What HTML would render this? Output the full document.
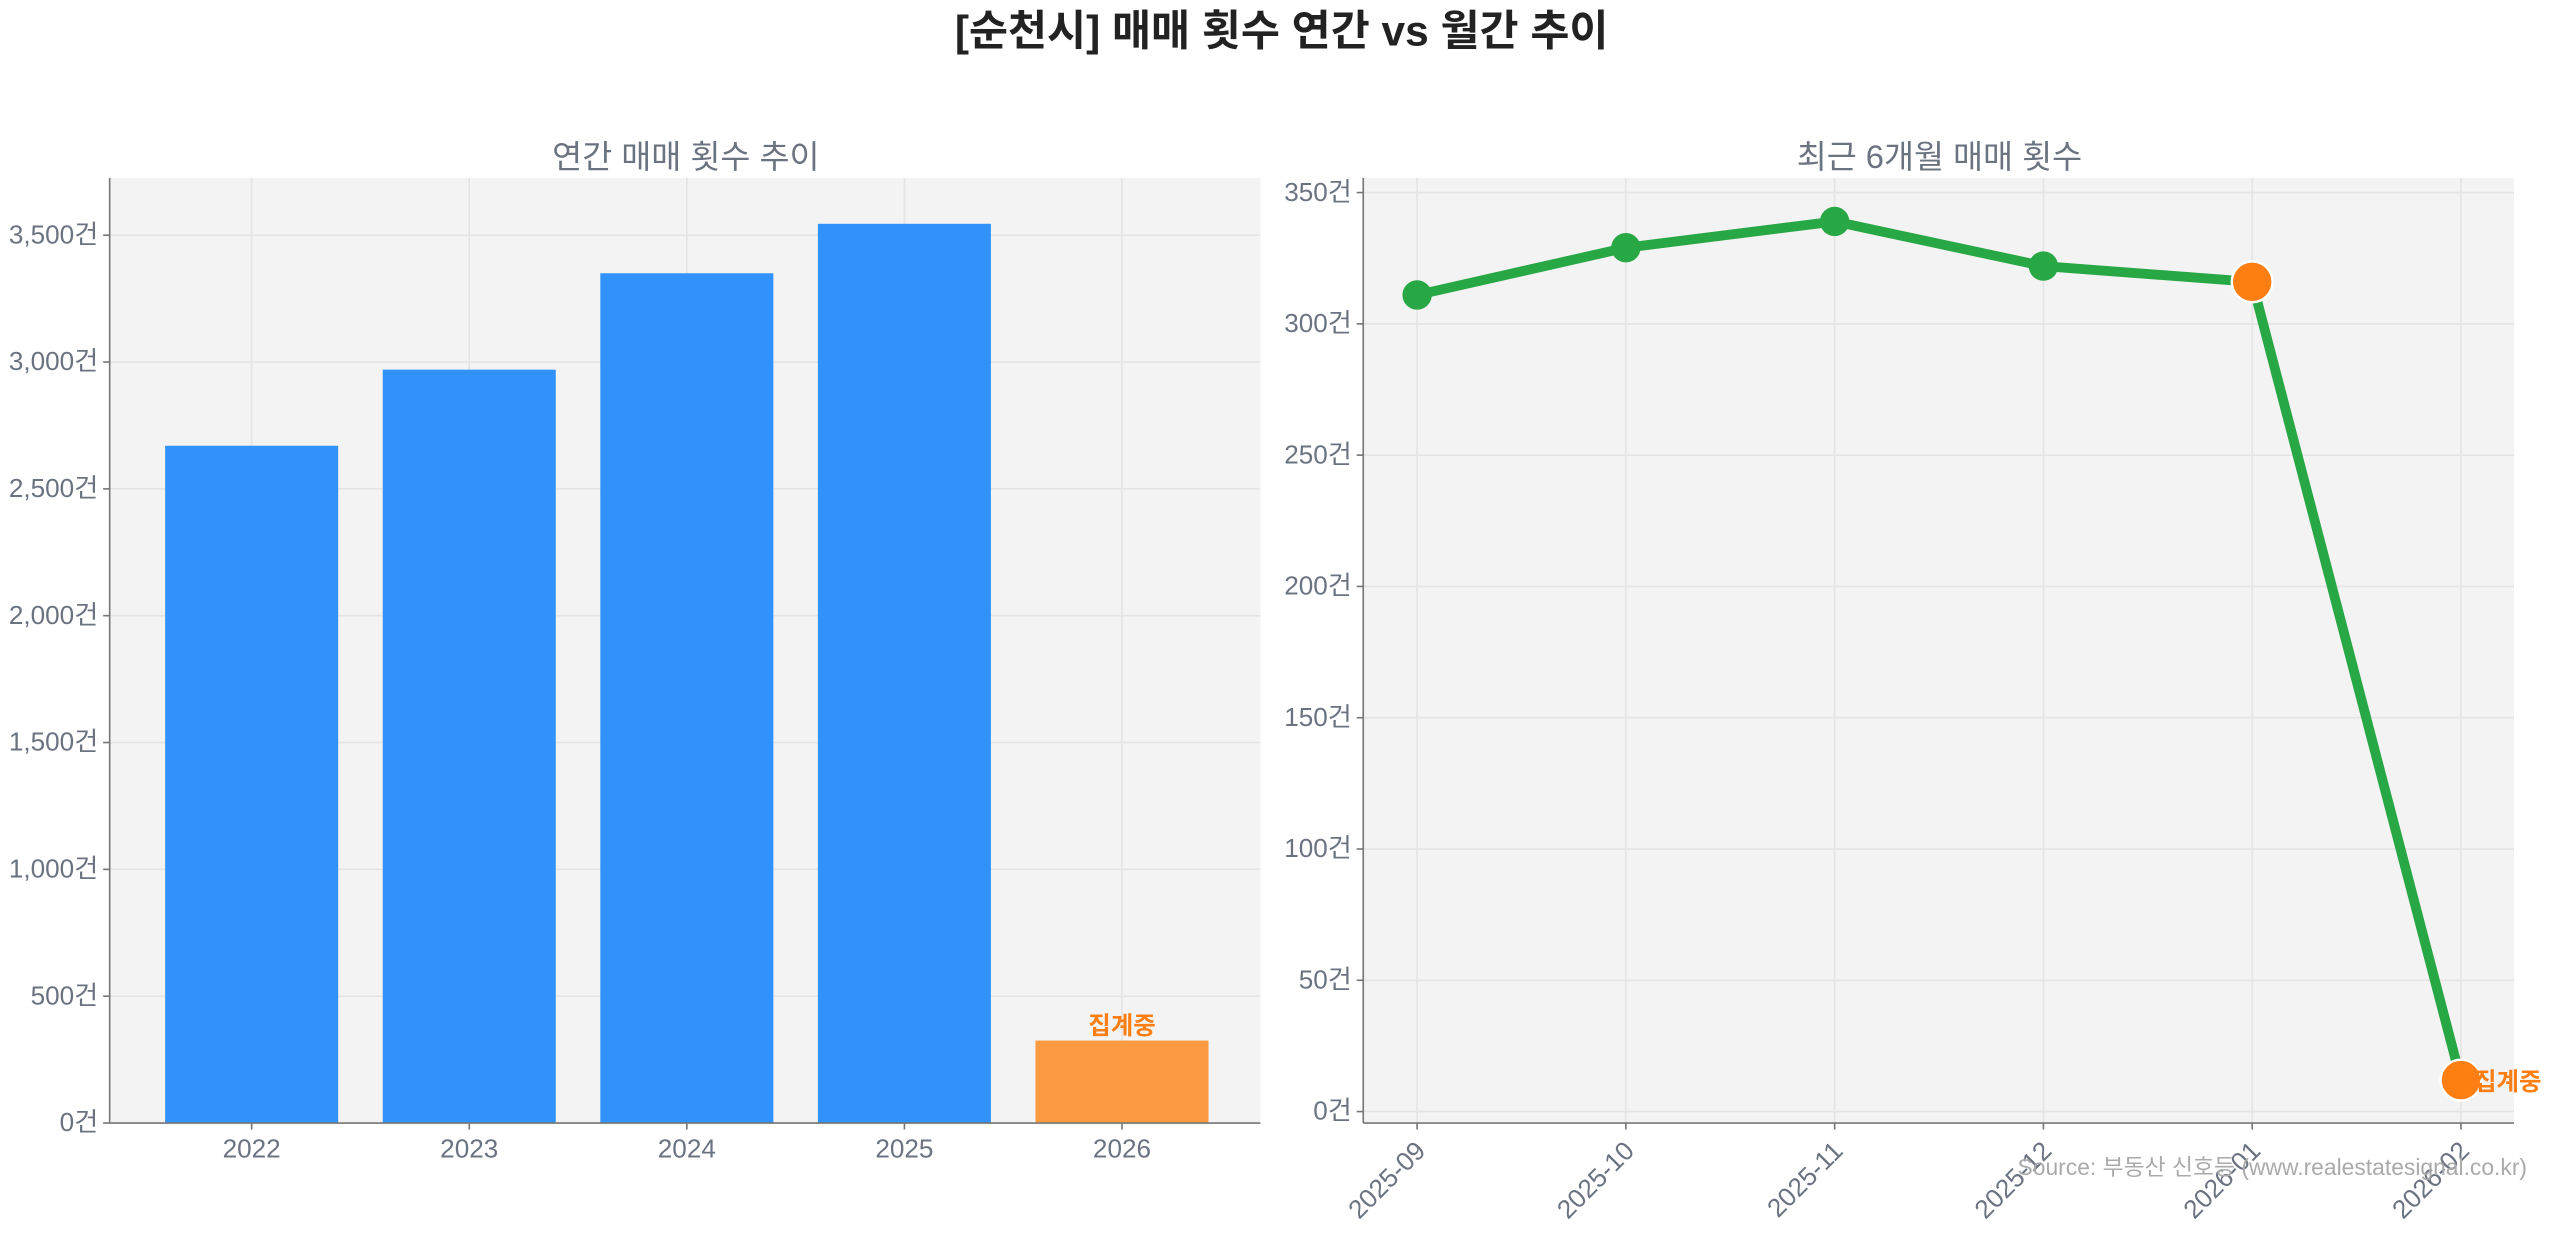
<!DOCTYPE html>
<html><head><meta charset="utf-8"><style>
html,body{margin:0;padding:0;background:#fff;width:2560px;height:1234px;overflow:hidden}
svg{display:block;font-family:"Liberation Sans","Noto Sans CJK KR",sans-serif}
</style></head><body>
<svg id="chart" width="2560" height="1234" viewBox="0 0 1568 756" xmlns="http://www.w3.org/2000/svg">
<text x="785" y="28" text-anchor="middle" font-size="26" font-weight="bold" fill="#222">[순천시] 매매 횟수 연간 vs 월간 추이</text>
<text x="420" y="103" text-anchor="middle" font-size="20" fill="#6b7380">연간 매매 횟수 추이</text>
<text x="1188" y="103" text-anchor="middle" font-size="20" fill="#6b7380">최근 6개월 매매 횟수</text>
<rect x="67" y="109" width="705" height="579" fill="#f3f3f3"/>
<rect x="835" y="109" width="705" height="579" fill="#f3f3f3"/>
<g id="left"></g><g id="right"></g>
<text x="1548" y="720" text-anchor="end" font-size="14" fill="#aaa">Source: 부동산 신호등 (www.realestatesignal.co.kr)</text>
</svg>
<script>
const years = ['2022','2023','2024','2025','2026'];
const yearValues = [2670, 2970, 3350, 3545, 325];
const yearTicks = [0,500,1000,1500,2000,2500,3000,3500];
const months = ['2025-09','2025-10','2025-11','2025-12','2026-01','2026-02'];
const monthValues = [311, 329, 339, 322, 316, 12];
const monthTicks = [0,50,100,150,200,250,300,350];

const NS='http://www.w3.org/2000/svg';
function mk(parent,tag,attrs,text){const e=document.createElementNS(NS,tag);for(const k in attrs)e.setAttribute(k,attrs[k]);if(text!==undefined)e.textContent=text;parent.appendChild(e);return e;}
const fmt=v=>v.toLocaleString('en-US')+'건';

// Left chart
const L=document.getElementById('left');
const lx=i=>154+i*133.3;
const ly=v=>688-v*(77.7/500);
yearTicks.forEach(t=>{
  const y=ly(t);
  const g=mk(L,'line',{x1:67,x2:772,y1:y,y2:y,stroke:'#e4e4e4','stroke-width':1});
  
  
  mk(L,'line',{x1:63,x2:67,y1:y,y2:y,stroke:'#777'});
  const tx=mk(L,'text',{x:60,y:y+5,'text-anchor':'end','font-size':16,fill:'#6b7380'},fmt(t));
  
  
});
years.forEach((c,i)=>{
  mk(L,'line',{x1:lx(i),x2:lx(i),y1:109,y2:688,stroke:'#e4e4e4'});
});
years.forEach((c,i)=>{
  const last=i===years.length-1;
  const r=mk(L,'rect',{x:lx(i)-53,y:ly(yearValues[i]),width:106,height:688-ly(yearValues[i]),fill:last?'#fb9a40':'#3192fb'});
  
  
  mk(L,'line',{x1:lx(i),x2:lx(i),y1:688,y2:692,stroke:'#777'});
  const t=mk(L,'text',{x:lx(i),y:709,'text-anchor':'middle','font-size':16,fill:'#6b7380'},c);
  
  
  if(last){
    const a=mk(L,'text',{x:lx(i),y:ly(yearValues[i])-4,'text-anchor':'middle','font-size':15,'font-weight':'bold',fill:'#fd7f14'},'집계중');
    
    
  }
});
mk(L,'line',{x1:67,x2:67,y1:109,y2:688,stroke:'#777'});
mk(L,'line',{x1:67,x2:772,y1:688,y2:688,stroke:'#777'});

// Right chart
const R=document.getElementById('right');
const rx=i=>868+i*127.9;
const ry=v=>681-v*(80.43/50);
monthTicks.forEach(t=>{
  const y=ry(t);
  const g=mk(R,'line',{x1:835,x2:1540,y1:y,y2:y,stroke:'#e4e4e4'});
  
  
  mk(R,'line',{x1:831,x2:835,y1:y,y2:y,stroke:'#777'});
  const tx=mk(R,'text',{x:828,y:y+5,'text-anchor':'end','font-size':16,fill:'#6b7380'},fmt(t));
  
  
});
months.forEach((m,i)=>{
  mk(R,'line',{x1:rx(i),x2:rx(i),y1:109,y2:688,stroke:'#e4e4e4'});
  mk(R,'line',{x1:rx(i),x2:rx(i),y1:688,y2:692,stroke:'#777'});
  const t=mk(R,'text',{x:rx(i)+6,y:706,'text-anchor':'end','font-size':16,fill:'#6b7380',transform:`rotate(-45 ${rx(i)+6} 706)`},m);
  
  
});
mk(R,'line',{x1:835,x2:835,y1:109,y2:688,stroke:'#777'});
mk(R,'line',{x1:835,x2:1540,y1:688,y2:688,stroke:'#777'});
const pts=monthValues.map((v,i)=>rx(i)+','+ry(v)).join(' ');
const pl=mk(R,'polyline',{points:pts,fill:'none',stroke:'#28a745','stroke-width':6,'stroke-linejoin':'round'});


monthValues.forEach((v,i)=>{
  const big=i>=monthValues.length-2;
  const c=mk(R,'circle',{cx:rx(i),cy:ry(v),r:big?12.5:9,fill:big?'#fd7f14':'#28a745',stroke:big?'#fff':'none','stroke-width':1.5});
  
  
});
const lastI=monthValues.length-1;
const pa=mk(R,'text',{x:rx(lastI)+8,y:ry(monthValues[lastI])+6,'font-size':15,'font-weight':'bold',fill:'#fd7f14'},'집계중');


</script>
</body></html>
